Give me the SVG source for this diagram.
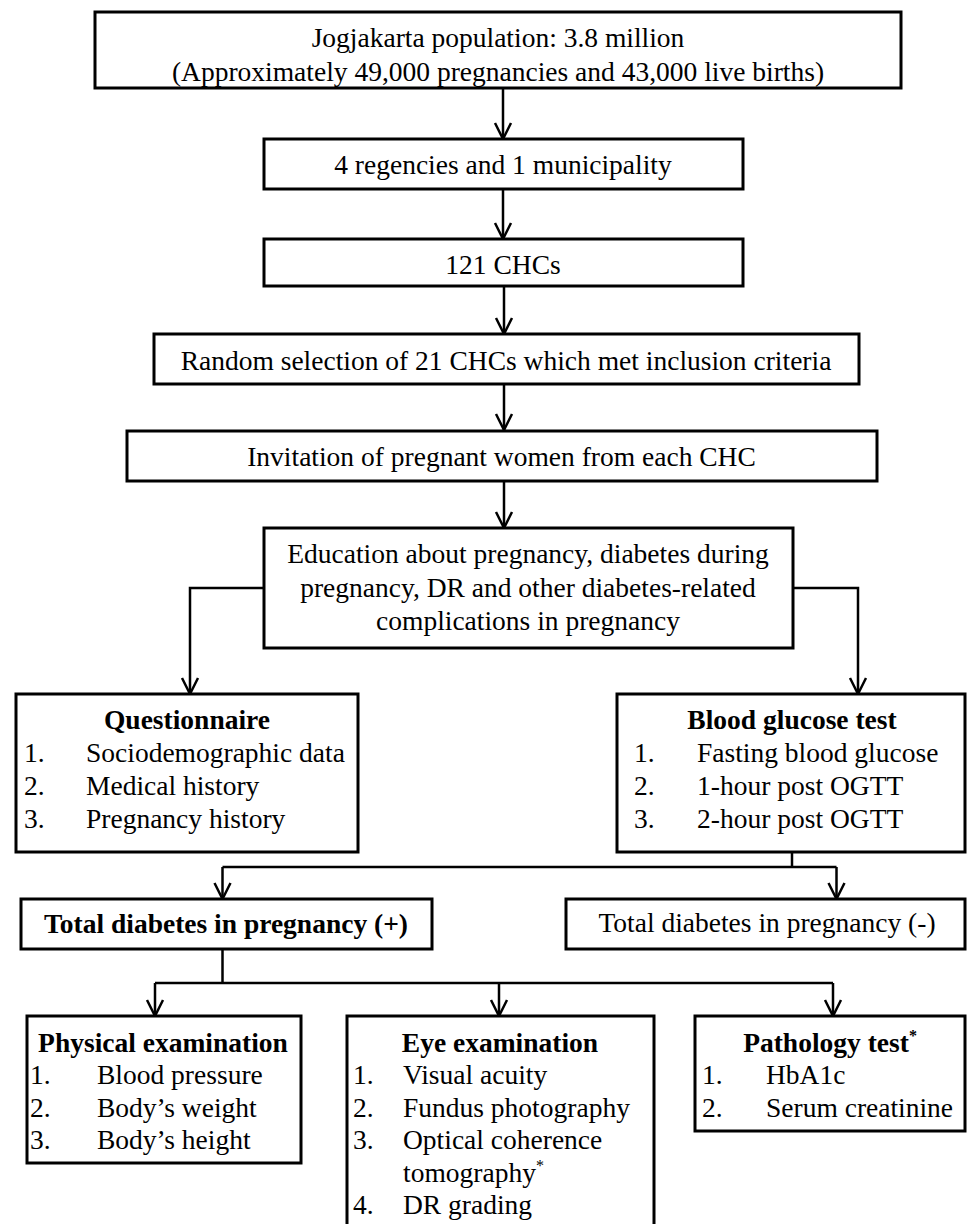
<svg xmlns="http://www.w3.org/2000/svg" width="968" height="1224" viewBox="0 0 968 1224">
<style>
.box{fill:#fff;stroke:#000;stroke-width:3}
.t{font-family:"Liberation Serif","Times New Roman",serif;font-size:27.5px;fill:#000}
.b{font-weight:bold}
.c{text-anchor:middle}
.conn{stroke:#000;stroke-width:2.5;fill:none}
.sup{font-size:16px}
</style>
<defs>
<marker id="arr" markerUnits="userSpaceOnUse" markerWidth="20" markerHeight="20" refX="17" refY="9" orient="auto" viewBox="0 0 20 18">
<path d="M1,1 L17,9 L1,17" fill="none" stroke="#000" stroke-width="2.5"/>
</marker>
</defs>
<rect width="968" height="1224" fill="#fff"/>
<g id="connectors">
<path class="conn" d="M503,88 V139" marker-end="url(#arr)"/>
<path class="conn" d="M503,189 V239" marker-end="url(#arr)"/>
<path class="conn" d="M504,286 V334" marker-end="url(#arr)"/>
<path class="conn" d="M504,384 V430" marker-end="url(#arr)"/>
<path class="conn" d="M504,481 V528" marker-end="url(#arr)"/>
<path class="conn" d="M264,588 H190 V694" marker-end="url(#arr)"/>
<path class="conn" d="M793,588 H858 V694" marker-end="url(#arr)"/>
<path class="conn" d="M792,852 V867"/>
<path class="conn" d="M222.5,867 H836.5"/>
<path class="conn" d="M222.5,867 V899" marker-end="url(#arr)"/>
<path class="conn" d="M836.5,867 V899" marker-end="url(#arr)"/>
<path class="conn" d="M222.5,949 V983"/>
<path class="conn" d="M155,983 H833"/>
<path class="conn" d="M155,983 V1016" marker-end="url(#arr)"/>
<path class="conn" d="M499,983 V1016" marker-end="url(#arr)"/>
<path class="conn" d="M833,983 V1016" marker-end="url(#arr)"/>
</g>
<g id="n1">
<rect class="box" x="95" y="12" width="806" height="76"/>
<text class="t c" x="498" y="47">Jogjakarta population: 3.8 million</text>
<text class="t c" x="498" y="81">(Approximately 49,000 pregnancies and 43,000 live births)</text>
</g>
<g id="n2">
<rect class="box" x="264" y="139" width="479" height="50"/>
<text class="t c" x="503" y="174">4 regencies and 1 municipality</text>
</g>
<g id="n3">
<rect class="box" x="264" y="239" width="479" height="47"/>
<text class="t c" x="503" y="274">121 CHCs</text>
</g>
<g id="n4">
<rect class="box" x="154" y="334" width="705" height="50"/>
<text class="t c" x="506" y="370">Random selection of 21 CHCs which met inclusion criteria</text>
</g>
<g id="n5">
<rect class="box" x="127" y="431" width="750" height="50"/>
<text class="t c" x="501.5" y="466">Invitation of pregnant women from each CHC</text>
</g>
<g id="n6">
<rect class="box" x="264" y="528" width="529" height="120"/>
<text class="t c" x="528" y="563">Education about pregnancy, diabetes during</text>
<text class="t c" x="528" y="597">pregnancy, DR and other diabetes-related</text>
<text class="t c" x="528" y="630">complications in pregnancy</text>
</g>
<g id="n7">
<rect class="box" x="16" y="694" width="342" height="158"/>
<text class="t b c" x="187" y="729">Questionnaire</text>
<text class="t" x="24" y="762">1.</text><text class="t" x="86" y="762">Sociodemographic data</text>
<text class="t" x="24" y="795">2.</text><text class="t" x="86" y="795">Medical history</text>
<text class="t" x="24" y="828">3.</text><text class="t" x="86" y="828">Pregnancy history</text>
</g>
<g id="n8">
<rect class="box" x="617" y="694" width="348" height="158"/>
<text class="t b c" x="792" y="729">Blood glucose test</text>
<text class="t" x="634" y="762">1.</text><text class="t" x="697" y="762">Fasting blood glucose</text>
<text class="t" x="634" y="795">2.</text><text class="t" x="697" y="795">1-hour post OGTT</text>
<text class="t" x="634" y="828">3.</text><text class="t" x="697" y="828">2-hour post OGTT</text>
</g>
<g id="n9">
<rect class="box" x="21" y="899" width="411" height="50"/>
<text class="t b c" x="226" y="933">Total diabetes in pregnancy (+)</text>
</g>
<g id="n10">
<rect class="box" x="566" y="899" width="399" height="50"/>
<text class="t c" x="767" y="932">Total diabetes in pregnancy (-)</text>
</g>
<g id="n11">
<rect class="box" x="27" y="1016" width="274" height="147"/>
<text class="t b c" x="163" y="1052">Physical examination</text>
<text class="t" x="30" y="1084">1.</text><text class="t" x="97" y="1084">Blood pressure</text>
<text class="t" x="30" y="1117">2.</text><text class="t" x="97" y="1117">Body’s weight</text>
<text class="t" x="30" y="1149">3.</text><text class="t" x="97" y="1149">Body’s height</text>
</g>
<g id="n12">
<rect class="box" x="347" y="1016" width="307" height="220"/>
<text class="t b c" x="500" y="1052">Eye examination</text>
<text class="t" x="353" y="1084">1.</text><text class="t" x="403" y="1084">Visual acuity</text>
<text class="t" x="353" y="1117">2.</text><text class="t" x="403" y="1117">Fundus photography</text>
<text class="t" x="353" y="1149">3.</text><text class="t" x="403" y="1149">Optical coherence</text>
<text class="t" x="403" y="1182">tomography<tspan class="sup" dy="-11">*</tspan></text>
<text class="t" x="353" y="1214">4.</text><text class="t" x="403" y="1214">DR grading</text>
</g>
<g id="n13">
<rect class="box" x="695" y="1016" width="270" height="115"/>
<text class="t b c" x="830" y="1052">Pathology test<tspan class="sup" dy="-11">*</tspan></text>
<text class="t" x="702" y="1084">1.</text><text class="t" x="766" y="1084">HbA1c</text>
<text class="t" x="702" y="1117">2.</text><text class="t" x="766" y="1117">Serum creatinine</text>
</g>
</svg>
